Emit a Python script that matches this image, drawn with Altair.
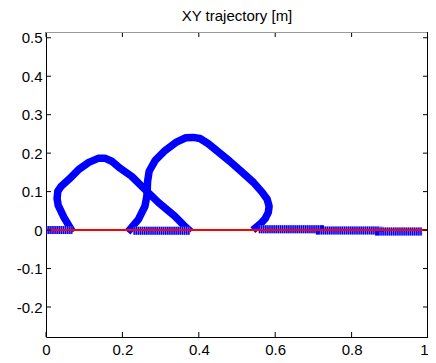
import altair as alt
import pandas as pd

title_text = "XY trajectory [m]"
x_ticks = [0, 0.2, 0.4, 0.6, 0.8, 1.0]
y_ticks = [-0.2, -0.1, 0, 0.1, 0.2, 0.3, 0.4, 0.5]
x_domain = [0, 1]
y_domain = [-0.278, 0.515]

# swing phases (foot trajectory loops)
loop1_x = [0.065, 0.047, 0.032, 0.029, 0.031, 0.040, 0.060, 0.086, 0.112, 0.138,
           0.154, 0.172, 0.195, 0.224, 0.259, 0.294, 0.337, 0.361, 0.372]
loop1_y = [0.003, 0.033, 0.064, 0.082, 0.101, 0.114, 0.132, 0.158, 0.176, 0.187,
           0.187, 0.179, 0.160, 0.140, 0.106, 0.072, 0.036, 0.012, 0.002]
loop2_x = [0.220, 0.242, 0.259, 0.264, 0.266, 0.270, 0.286, 0.312, 0.340, 0.366,
           0.385, 0.403, 0.424, 0.449, 0.481, 0.514, 0.543, 0.566, 0.579, 0.584,
           0.582, 0.574, 0.561, 0.549]
loop2_y = [0.002, 0.028, 0.062, 0.088, 0.127, 0.153, 0.181, 0.207, 0.228, 0.240,
           0.241, 0.238, 0.225, 0.205, 0.179, 0.150, 0.124, 0.098, 0.080, 0.062,
           0.046, 0.030, 0.016, 0.006]

# stance phases (points on the ground)
g1_x = [0.0, 0.069]
g1_y = [0.0, 0.0]
g2_x = [0.229, 0.377]
g2_y = [-0.002, -0.002]
g3_x = [0.557, 0.717, 0.717, 0.872, 0.872, 0.985]
g3_y = [0.002, 0.002, -0.001, -0.001, -0.004, -0.004]

# reference line
ref_x = [0.0, 1.0]
ref_y = [0.0, 0.0]


def seg(name, xs, ys):
    return pd.DataFrame({"seg": name, "x": xs, "y": ys, "i": list(range(len(xs)))})


swing = pd.concat([seg("loop1", loop1_x, loop1_y), seg("loop2", loop2_x, loop2_y)])
stance = pd.concat([seg("g1", g1_x, g1_y), seg("g2", g2_x, g2_y), seg("g3", g3_x, g3_y)])
ref = pd.DataFrame({"x": ref_x, "y": ref_y})
xt = pd.DataFrame({"t": x_ticks})
yt = pd.DataFrame({"t": y_ticks})

W, H = 382, 305
FONT = "Liberation Sans"
xs = alt.Scale(domain=x_domain, nice=False, zero=False)
ys = alt.Scale(domain=y_domain, nice=False, zero=False)

lab = "datum.value == 0 ? '0' : toString(round(datum.value * 10) / 10)"
x_axis = alt.Axis(values=x_ticks, ticks=False, grid=False, domain=True,
                  domainColor="black", domainWidth=1, labelExpr=lab, labelFlush=False,
                  labelAlign=alt.ExprRef(expr="datum.value == 1 ? 'right' : 'center'"),
                  labelPadding=5, labelFont=FONT, labelFontSize=15, labelColor="black",
                  title=None)
y_axis = alt.Axis(values=y_ticks, ticks=False, grid=False, domain=True,
                  domainColor="black", domainWidth=1, labelExpr=lab, labelFlush=False,
                  labelPadding=4, labelFont=FONT, labelFontSize=15, labelColor="black",
                  title=None)

X = alt.X("x:Q", scale=xs, axis=x_axis)
Y = alt.Y("y:Q", scale=ys, axis=y_axis)

swing_l = alt.Chart(swing).mark_line(color="#0000ff", strokeWidth=7.5, strokeJoin="round",
                                     strokeCap="square").encode(
    x=X, y=Y, detail="seg:N", order="i:Q")
stance_bg = alt.Chart(stance).mark_line(color="#8c8cff", strokeWidth=8,
                                        strokeCap="butt").encode(
    x=X, y=Y, detail="seg:N", order="i:Q")
stance_l = alt.Chart(stance).mark_line(color="#0000ff", strokeWidth=8, strokeCap="butt",
                                       strokeDash=[1.4, 0.7]).encode(
    x=X, y=Y, detail="seg:N", order="i:Q")
ref_l = alt.Chart(ref).mark_line(color="#ff0000", strokeWidth=2).encode(x=X, y=Y)

TX = alt.X("t:Q", scale=xs, axis=x_axis)
TY = alt.Y("t:Q", scale=ys, axis=y_axis)
tick_b = alt.Chart(xt).mark_rule(color="black").encode(x=TX, y=alt.value(H), y2=alt.value(H - 5))
tick_t = alt.Chart(xt).mark_rule(color="black").encode(x=TX, y=alt.value(0), y2=alt.value(5))
tick_l = alt.Chart(yt).mark_rule(color="black").encode(y=TY, x=alt.value(0), x2=alt.value(5))
tick_r = alt.Chart(yt).mark_rule(color="black").encode(y=TY, x=alt.value(W - 0.5), x2=alt.value(W - 5))

frame_top = alt.Chart(ref).mark_rule(color="#999999").encode(
    x=alt.value(0), x2=alt.value(W), y=alt.value(0.5))
frame_right = alt.Chart(ref).mark_rule(color="black").encode(
    x=alt.value(W - 0.5), y=alt.value(0), y2=alt.value(H))

chart = alt.layer(
    swing_l, stance_bg, stance_l, ref_l, tick_b, tick_t, tick_l, tick_r, frame_top, frame_right
).properties(
    width=W, height=H,
    title=alt.TitleParams(title_text, font=FONT, fontSize=15, fontWeight="normal",
                          color="black", anchor="middle", offset=7),
    autosize=alt.AutoSizeParams(type="none"),
    padding={"left": 38, "top": 24, "right": 0, "bottom": 22},
).configure_view(stroke=None).configure(background="white")

chart.save("out.html", embed_options={"renderer": "svg", "actions": False})
